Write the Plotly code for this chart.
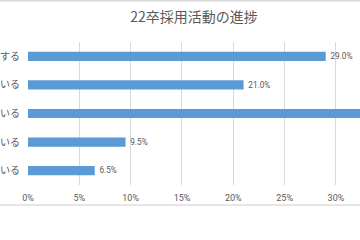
import plotly.graph_objects as go

title = "22卒採用活動の進捗"
categories = ["する", "いる", "いる", "いる", "いる"]
values = [29.0, 21.0, 34.0, 9.5, 6.5]
x_ticks = [0, 5, 10, 15, 20, 25, 30]
x_tick_labels = ["0%", "5%", "10%", "15%", "20%", "25%", "30%"]

x_max = 32.34
positions = list(range(len(categories)))
# labels of bars running past the visible right edge are off-screen in the reference
labels = [f"\u2009{v:.1f}%" if v < x_max - 3 else "" for v in values]

fig = go.Figure(go.Bar(
    x=values,
    y=positions,
    orientation="h",
    marker=dict(color="#5B9BD5", line=dict(width=0)),
    width=0.32,
    text=labels,
    textposition="outside",
    textfont=dict(size=9, color="#595959", family="Roboto, Noto Sans CJK JP"),
    cliponaxis=True,
))

fig.update_layout(
    width=360, height=240,
    margin=dict(l=25, r=0, t=42, b=55),
    paper_bgcolor="white", plot_bgcolor="white",
    showlegend=False,
    title=dict(text=title, x=0.5, xref="paper", xanchor="center", y=0.93, yanchor="middle",
               font=dict(size=14, color="#595959", family="Noto Sans CJK JP")),
    font=dict(family="Noto Sans CJK JP", color="#595959"),
    xaxis=dict(range=[0, x_max], tickvals=x_ticks, ticktext=x_tick_labels,
               showgrid=True, gridcolor="#D9D9D9", gridwidth=1, zeroline=False,
               showline=False, tickfont=dict(size=9, color="#595959", family="Roboto"),
               ticks="", ticklabelstandoff=6),
    yaxis=dict(range=[4.5, -0.5], tickvals=positions, ticktext=categories,
               showgrid=False, zeroline=False, showline=False, ticks="",
               tickfont=dict(size=10, color="#595959", family="Noto Sans CJK JP"),
               ticklabelstandoff=7),
    shapes=[
        dict(type="line", xref="paper", yref="paper", x0=-0.1, x1=1.1, y0=1.29, y1=1.29,
             line=dict(color="#D9D9D9", width=2)),
        dict(type="line", xref="paper", yref="paper", x0=-0.1, x1=1.1, y0=-0.14, y1=-0.14,
             line=dict(color="#E6E6E6", width=2)),
    ],
)

fig.write_html("out.html")
